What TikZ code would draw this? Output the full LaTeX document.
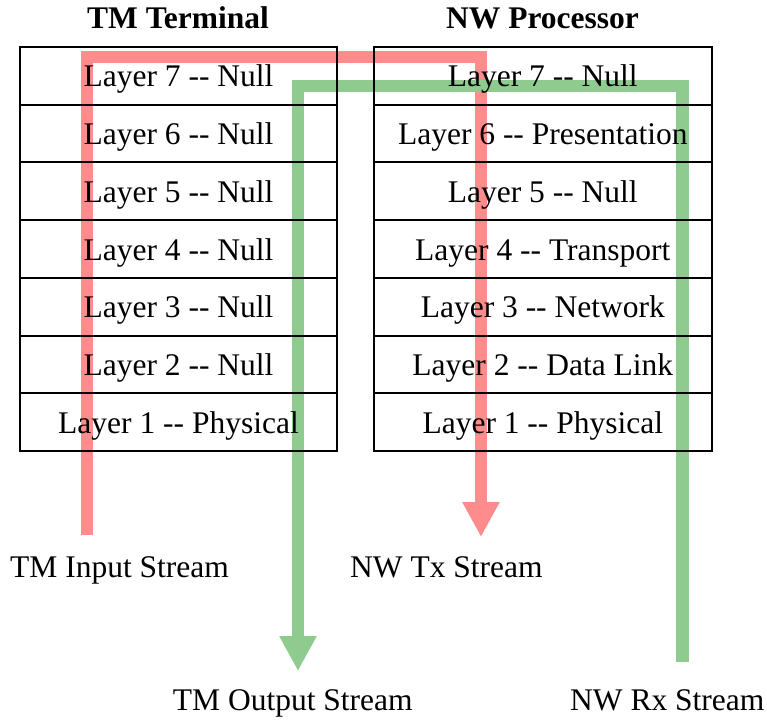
\documentclass[tikz,border=0pt]{standalone}
\usepackage{fontspec}
\setmainfont{Liberation Serif}
\usepackage{tikz}
\usetikzlibrary{arrows.meta,positioning}
\definecolor{flowred}{HTML}{FF8C8C}
\definecolor{flowgreen}{HTML}{8FCB8F}
\newcommand\dbl{-\kern0pt-}

\begin{document}
\begin{tikzpicture}[
  x=1pt,y=-1pt,
  node distance=0pt,
  tmlayer/.style={rectangle,draw=black,line width=2pt,outer sep=0pt,
              minimum width=317pt,minimum height=57.7pt,
              text height=22pt,text depth=0pt,inner sep=0pt,
              font=\fontsize{31.5}{36}\selectfont},
  nwlayer/.style={tmlayer,minimum width=337.5pt},
  hdr/.style={font=\fontsize{31.5}{36}\selectfont\bfseries,anchor=base,inner sep=0pt},
  lbl/.style={font=\fontsize{31.5}{36}\selectfont,anchor=base west,inner sep=0pt},
  flow/.style={draw=#1,line width=12.5pt,
               -{Triangle[length=35pt,width=35pt]}}
]
  \useasboundingbox (0,0) rectangle (767,719);

  % stream ends
  \coordinate (redstart) at (87,535);
  \coordinate (redtop)   at (481,57);
  \coordinate (redend)   at (481,537);
  \coordinate (grnstart) at (682.5,662);
  \coordinate (grntop)   at (298,86);
  \coordinate (grnend)   at (298,671);

  \draw[flow=flowred]   (redstart) |- (redtop) -- (redend);
  \draw[flow=flowgreen] (grnstart) |- (grntop) -- (grnend);

  \node[hdr] (tmhead) at (178,28.3) {TM Terminal};
  \node[hdr] (nwhead) at (542.5,28.3) {NW Processor};

  \node[tmlayer] (tm7) at (178.5,75.9) {Layer 7 \dbl{} Null};
  \node[tmlayer,below=of tm7] (tm6) {Layer 6 \dbl{} Null};
  \node[tmlayer,below=of tm6] (tm5) {Layer 5 \dbl{} Null};
  \node[tmlayer,below=of tm5] (tm4) {Layer 4 \dbl{} Null};
  \node[tmlayer,below=of tm4] (tm3) {Layer 3 \dbl{} Null};
  \node[tmlayer,below=of tm3] (tm2) {Layer 2 \dbl{} Null};
  \node[tmlayer,below=of tm2] (tm1) {Layer 1 \dbl{} Physical};

  \node[nwlayer] (nw7) at (542.8,75.9) {Layer 7 \dbl{} Null};
  \node[nwlayer,below=of nw7] (nw6) {Layer 6 \dbl{} Presentation};
  \node[nwlayer,below=of nw6] (nw5) {Layer 5 \dbl{} Null};
  \node[nwlayer,below=of nw5] (nw4) {Layer 4 \dbl{} Transport};
  \node[nwlayer,below=of nw4] (nw3) {Layer 3 \dbl{} Network};
  \node[nwlayer,below=of nw3] (nw2) {Layer 2 \dbl{} Data Link};
  \node[nwlayer,below=of nw2] (nw1) {Layer 1 \dbl{} Physical};

  \node[lbl] (tmin)  at (10,577.3)    {TM Input Stream};
  \node[lbl] (nwtx)  at (350,577.3)   {NW Tx Stream};
  \node[lbl] (tmout) at (172.7,710.7) {TM Output Stream};
  \node[lbl] (nwrx)  at (570,710.7)   {NW Rx Stream};
\end{tikzpicture}
\end{document}
